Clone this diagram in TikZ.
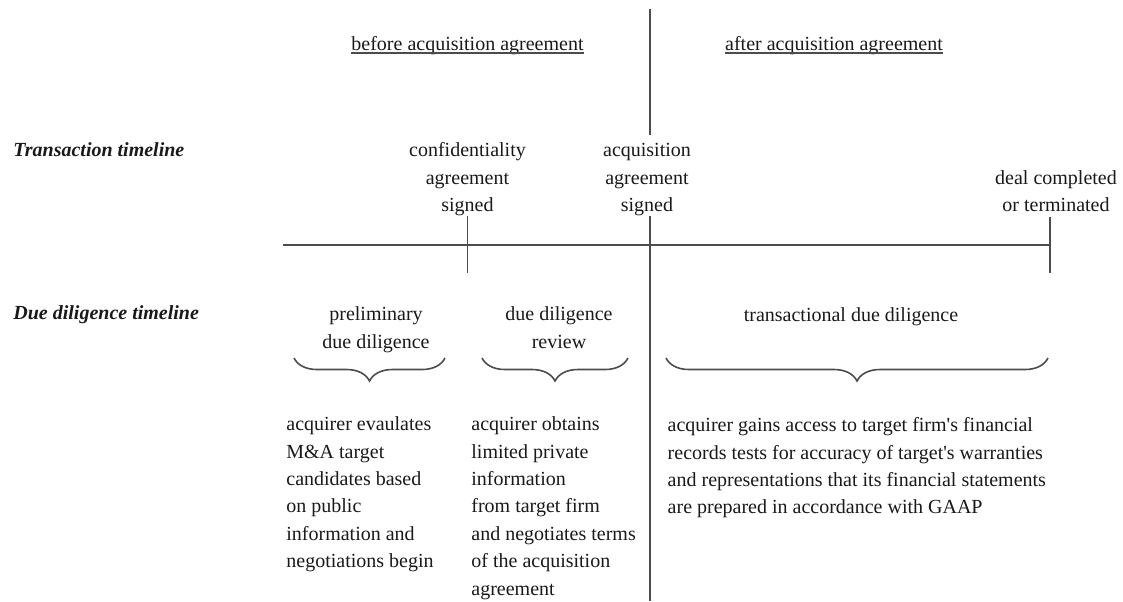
\documentclass[tikz,border=0pt]{standalone}
\usepackage{fontspec}
\setmainfont{Liberation Serif}
\usetikzlibrary{decorations.pathreplacing}

\begin{document}
\begin{tikzpicture}[x=0.5pt, y=-0.5pt]
	\tikzstyle{every node} = [inner sep=0pt, text=black!90, font=\fontsize{10}{13.7}\selectfont]
	\tikzstyle{rowtitle} = [anchor=base west, font=\fontsize{10}{13.7}\selectfont\bfseries\itshape]
	\tikzstyle{event} = [anchor=base, align=center]
	\tikzstyle{block} = [anchor=base west, align=left]
	\tikzstyle{line} = [draw=black!70, line width=0.8pt]
	\tikzstyle{curly} = [line, decorate, decoration={brace, mirror, amplitude=11.5pt}]
	\useasboundingbox (0,0) rectangle (1123,601);
	% headings
	\node (before) [anchor=base] at (467.5, 50) {before acquisition agreement};
	\node (after) [anchor=base] at (834, 50) {after acquisition agreement};
	\draw [line, line width=0.6pt] ([yshift=-1.5pt]before.base west) -- ([yshift=-1.5pt]before.base east);
	\draw [line, line width=0.6pt] ([yshift=-1.5pt]after.base west) -- ([yshift=-1.5pt]after.base east);
	\node (transTitle) [rowtitle] at (13, 156) {Transaction timeline};
	\node (ddTitle) [rowtitle] at (13, 319) {Due diligence timeline};
	% transaction timeline (base = last line)
	\node (confid) [event] at (467.5, 211.7) {confidentiality\\agreement\\signed};
	\node (acqSigned) [event] at (647, 211.7) {acquisition\\agreement\\signed};
	\node (deal) [event] at (1056, 211.7) {deal completed\\or terminated};
	\coordinate (top) at (650, 9);
	\coordinate (bottom) at (650, 601);
	\coordinate (tlStart) at (283, 245);
	\coordinate (tlEnd) at (1050, 245);
	\coordinate (confidEnd) at (467.5, 273);
	\coordinate (dealTop) at (1050, 217);
	\coordinate (dealEnd) at (1050, 273);
	\draw [line] (top)--([yshift=4pt]acqSigned.north -| top);
	\draw [line] (acqSigned.south -| top)--(bottom);
	\draw [line] (tlStart)--(tlEnd);
	\draw [line] (confid.south)--(confidEnd);
	\draw [line] (dealTop)--(dealEnd);
	% due diligence timeline
	\node (prelim) [event] at (376, 348) {preliminary\\due diligence};
	\node (review) [event] at (559, 348) {due diligence\\review};
	\node (transDD) [event] at (851, 321.7) {transactional due diligence};
	\coordinate (prelimL) at (294, 358);
	\coordinate (prelimR) at (445, 358);
	\coordinate (reviewL) at (482, 358);
	\coordinate (reviewR) at (628, 358);
	\coordinate (transL) at (666, 358);
	\coordinate (transR) at (1048, 358);
	\draw [curly] (prelimL)--(prelimR);
	\draw [curly] (reviewL)--(reviewR);
	\draw [curly] (transL)--(transR);
	\node (prelimText) [block] at (286, 567.7) {acquirer evaulates\\M\&A target\\candidates based\\on public\\information and\\negotiations begin};
	\node (reviewText) [block] at (471, 595.1) {acquirer obtains\\limited private\\information\\from target firm\\and negotiates terms\\of the acquisition\\agreement};
	\node (transText) [block] at (667.3, 513.9) {acquirer gains access to target firm\textquotesingle s financial\\records tests for accuracy of target\textquotesingle s warranties\\and representations that its financial statements\\are prepared in accordance with GAAP};
\end{tikzpicture}
\end{document}
